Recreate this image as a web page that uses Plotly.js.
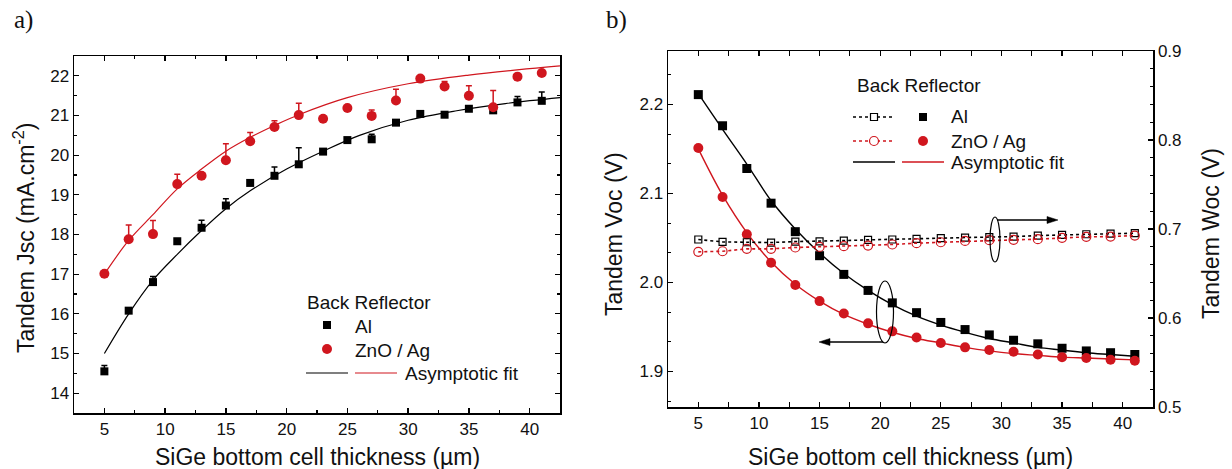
<!DOCTYPE html>
<html><head><meta charset="utf-8">
<script src="https://cdn.plot.ly/plotly-3.0.1.min.js"></script>
<style>html,body{margin:0;padding:0;background:#fff}#c{width:1232px;height:469px}</style>
</head><body><div id="c"></div>
<script>
// ---- data ----
const thickness = [5,7,9,11,13,15,17,19,21,23,25,27,29,31,33,35,37,39,41];

// Panel a: Tandem Jsc (mA.cm-2)
const jscAl    = [14.55,16.08,16.80,17.83,18.17,18.73,19.30,19.48,19.77,20.09,20.38,20.40,20.82,21.04,21.02,21.17,21.13,21.33,21.37];
const jscAlErr = [0.15,0.05,0.14,0.05,0.19,0.17,0.07,0.22,0.42,0.05,0.05,0.13,0.05,0.05,0.03,0.05,0.05,0.15,0.22];
const jscZn    = [17.01,17.88,18.01,19.27,19.48,19.87,20.35,20.71,21.01,20.92,21.19,20.99,21.38,21.93,21.73,21.50,21.21,21.98,22.07];
const jscZnErr = [0,0.36,0.34,0.25,0.05,0.42,0.22,0.16,0.30,0.03,0,0.15,0.28,0,0.13,0.25,0.42,0,0];

const jscFitAlX = [5,7,9,11,13,15,17,20,23,26,30,34,38,42.5];
const jscFitAlY = [15.0,16.0,16.85,17.5,18.1,18.65,19.1,19.65,20.1,20.5,20.88,21.12,21.3,21.45];
const jscFitZnX = [5,7,9,11,13,15,17,19,21,25,30,35,40,42.5];
const jscFitZnY = [17.0,17.85,18.5,19.15,19.65,20.1,20.45,20.75,21.02,21.45,21.8,22.02,22.18,22.25];

// Panel b: Tandem Voc (V) left axis, Tandem Woc (V) right axis
const vocAl = [2.211,2.176,2.128,2.089,2.057,2.030,2.009,1.991,1.977,1.966,1.955,1.947,1.941,1.935,1.931,1.926,1.923,1.921,1.919];
const vocZn = [2.151,2.096,2.054,2.022,1.997,1.979,1.965,1.954,1.945,1.938,1.932,1.927,1.924,1.922,1.919,1.916,1.915,1.913,1.912];
const vocFitAl = [2.212,2.172,2.133,2.092,2.060,2.033,2.010,1.991,1.975,1.962,1.952,1.944,1.937,1.932,1.927,1.924,1.921,1.919,1.917];
const vocFitZn = [2.150,2.098,2.056,2.023,1.998,1.979,1.964,1.953,1.944,1.937,1.932,1.927,1.923,1.920,1.918,1.916,1.915,1.914,1.913];
const wocAl = [0.6882,0.6855,0.6851,0.6848,0.6859,0.6862,0.6870,0.6878,0.6882,0.6889,0.6897,0.6904,0.6908,0.6915,0.6926,0.6934,0.6941,0.6949,0.6953];
const wocZn = [0.6743,0.6750,0.6777,0.6777,0.6792,0.6799,0.6807,0.6814,0.6826,0.6841,0.6851,0.6866,0.6874,0.6878,0.6886,0.6901,0.6912,0.6915,0.6926];

const xTickVals = [5,10,15,20,25,30,35,40];
const labelA = 'a)', labelB = 'b)';
const xTitle = 'SiGe bottom cell thickness (µm)';
const yTitleA = 'Tandem Jsc (mA.cm<sup>-2</sup>)';
const yTitleB = 'Tandem Voc (V)';
const yTitleB2 = 'Tandem Woc (V)';
const legTitle = 'Back Reflector';
const legAl = 'Al', legZn = 'ZnO / Ag', legFit = 'Asymptotic fit';

// ---- style ----
const W = 1232, H = 469;
const RED = '#d0161e', BLK = '#000000';
const FONT = 'Liberation Sans, Arial, sans-serif';
const TICK = 17, LEG = 19, TITLE = 23;
const px = x => x / W;
const py = y => 1 - y / H;

const traces = [
  // Panel a
  {x: jscFitAlX, y: jscFitAlY, xaxis:'x', yaxis:'y', mode:'lines', line:{color:BLK, width:1.2, shape:'spline'}, hoverinfo:'skip'},
  {x: jscFitZnX, y: jscFitZnY, xaxis:'x', yaxis:'y', mode:'lines', line:{color:RED, width:1.2, shape:'spline'}, hoverinfo:'skip'},
  {x: thickness, y: jscAl, xaxis:'x', yaxis:'y', mode:'markers', marker:{symbol:'square', size:8, color:BLK},
   error_y:{type:'data', symmetric:false, array:jscAlErr, arrayminus:jscAl.map(()=>0), color:BLK, thickness:1.5, width:3}},
  {x: thickness, y: jscZn, xaxis:'x', yaxis:'y', mode:'markers', marker:{symbol:'circle', size:10, color:RED},
   error_y:{type:'data', symmetric:false, array:jscZnErr, arrayminus:jscZn.map(()=>0), color:RED, thickness:1.5, width:3}},
  // Panel b - Woc (right axis)
  {x: thickness, y: wocAl, xaxis:'x2', yaxis:'y3', mode:'lines+markers', line:{color:BLK, width:1.6, dash:'dot'},
   marker:{symbol:'square-open', size:7, color:BLK, line:{width:1.2}}},
  {x: thickness, y: wocZn, xaxis:'x2', yaxis:'y3', mode:'lines+markers', line:{color:RED, width:1.6, dash:'dot'},
   marker:{symbol:'circle-open', size:9, color:RED, line:{width:1.2}}},
  // Panel b - Voc (left axis)
  {x: thickness, y: vocFitAl, xaxis:'x2', yaxis:'y2', mode:'lines', line:{color:BLK, width:1.4, shape:'spline'}, hoverinfo:'skip'},
  {x: thickness, y: vocFitZn, xaxis:'x2', yaxis:'y2', mode:'lines', line:{color:RED, width:1.4, shape:'spline'}, hoverinfo:'skip'},
  {x: thickness, y: vocAl, xaxis:'x2', yaxis:'y2', mode:'markers', marker:{symbol:'square', size:9, color:BLK}},
  {x: thickness, y: vocZn, xaxis:'x2', yaxis:'y2', mode:'markers', marker:{symbol:'circle', size:10, color:RED}}
];

const axisBase = {
  showline:true, linecolor:BLK, linewidth:1.5, ticks:'inside', ticklen:5, tickwidth:1.3, tickcolor:BLK,
  showgrid:false, zeroline:false, tickfont:{family:FONT, size:TICK, color:'#111'},
  minor:{ticks:'inside', ticklen:3, tickwidth:1.1, tickcolor:BLK, showgrid:false}
};

const layout = {
  width:W, height:H, margin:{l:0,r:0,t:0,b:0}, showlegend:false,
  paper_bgcolor:'#fff', plot_bgcolor:'#fff', font:{family:FONT, color:'#111'},
  xaxis: Object.assign({}, axisBase, {domain:[px(74), px(560)], range:[2.5,42.5], tickvals:xTickVals, mirror:'allticks',
    minor:Object.assign({}, axisBase.minor, {dtick:2.5, tick0:0}), anchor:'y'}),
  yaxis: Object.assign({}, axisBase, {domain:[py(413), py(56)], range:[13.5,22.5], dtick:1, mirror:'allticks',
    minor:Object.assign({}, axisBase.minor, {dtick:0.5, tick0:0}), anchor:'x'}),
  xaxis2: Object.assign({}, axisBase, {domain:[px(668), px(1153)], range:[2.5,42.5], tickvals:xTickVals, mirror:'allticks',
    minor:Object.assign({}, axisBase.minor, {dtick:2.5, tick0:0}), anchor:'y2'}),
  yaxis2: Object.assign({}, axisBase, {domain:[py(407), py(51)], range:[1.86,2.26], dtick:0.1, tick0:0, tickformat:'.1f',
    minor:Object.assign({}, axisBase.minor, {dtick:0.1/3, tick0:0}), anchor:'x2'}),
  yaxis3: Object.assign({}, axisBase, {domain:[py(407), py(51)], range:[0.5,0.9], dtick:0.1, tick0:0, tickformat:'.1f',
    overlaying:'y2', side:'right', anchor:'x2', minor:Object.assign({}, axisBase.minor, {dtick:0.02, tick0:0})}),
  annotations: [],
  shapes: []
};

const A = layout.annotations, S = layout.shapes;
function txt(x, y, t, opt) {
  A.push(Object.assign({xref:'paper', yref:'paper', x:px(x), y:py(y), text:t, showarrow:false,
    xanchor:'left', yanchor:'middle', font:{family:FONT, size:LEG, color:'#111'}}, opt||{}));
}
function pline(x0, y0, x1, y1, color, width, dash) {
  S.push({type:'line', xref:'paper', yref:'paper', x0:px(x0), x1:px(x1), y0:py(y0), y1:py(y1), line:{color:color, width:width, dash:dash||'solid'}});
}
function tri(x0, y0, x1, y1, x2, y2) {
  S.push({type:'path', xref:'paper', yref:'paper',
    path:'M'+px(x0)+','+py(y0)+' L'+px(x1)+','+py(y1)+' L'+px(x2)+','+py(y2)+' Z', fillcolor:BLK, line:{color:BLK, width:0.5}});
}
// panel labels
const SERIF = {family:'Liberation Serif, Times New Roman, serif', size:25, color:'#111'};
txt(12, 20, labelA, {font:SERIF});
txt(604, 20, labelB, {font:SERIF});
// axis titles
const TF = {family:FONT, size:TITLE, color:'#111'};
txt(317, 457, xTitle, {xanchor:'center', font:TF});
txt(910, 457, xTitle, {xanchor:'center', font:TF});
txt(24, 238, yTitleA, {xanchor:'center', textangle:-90, font:TF});
txt(614, 234, yTitleB, {xanchor:'center', textangle:-90, font:TF});
txt(1211, 234, yTitleB2, {xanchor:'center', textangle:-90, font:TF});

// Panel a legend
txt(305, 302, legTitle);
S.push({type:'rect', xref:'paper', yref:'paper', x0:px(323), x1:px(331), y0:py(329), y1:py(321), fillcolor:BLK, line:{width:0}});
txt(353, 326, legAl);
S.push({type:'circle', xref:'paper', yref:'paper', x0:px(322), x1:px(332), y0:py(354), y1:py(344), fillcolor:RED, line:{width:0}});
txt(353, 350, legZn);
pline(306, 373, 348, 373, BLK, 1.2);
pline(355, 373, 397, 373, RED, 1.2);
txt(403, 373, legFit);

// Panel b legend
txt(855, 85, legTitle);
pline(853, 117, 893, 117, BLK, 1.3, 'dot');
S.push({type:'rect', xref:'paper', yref:'paper', x0:px(870.5), x1:px(877.5), y0:py(120.5), y1:py(113.5), fillcolor:'#fff', line:{color:BLK, width:1.2}});
S.push({type:'rect', xref:'paper', yref:'paper', x0:px(919), x1:px(927), y0:py(121), y1:py(113), fillcolor:BLK, line:{width:0}});
txt(949, 117, legAl);
pline(853, 141, 893, 141, RED, 1.3, 'dot');
S.push({type:'circle', xref:'paper', yref:'paper', x0:px(869.5), x1:px(878.5), y0:py(145.5), y1:py(136.5), fillcolor:'#fff', line:{color:RED, width:1.2}});
S.push({type:'circle', xref:'paper', yref:'paper', x0:px(918), x1:px(928), y0:py(146), y1:py(136), fillcolor:RED, line:{width:0}});
txt(949, 141, legZn);
pline(853, 162, 895, 162, BLK, 1.4);
pline(902, 162, 944, 162, RED, 1.4);
txt(949, 162, legFit);

// Panel b ellipses and arrows
S.push({type:'circle', xref:'paper', yref:'paper', x0:px(990), x1:px(1000), y0:py(262), y1:py(217), line:{color:BLK, width:1.2}});
S.push({type:'circle', xref:'paper', yref:'paper', x0:px(876.5), x1:px(893.5), y0:py(343), y1:py(281), line:{color:BLK, width:1.2}});
pline(997, 220, 1049, 220, BLK, 1.3);
tri(1058, 220, 1047, 216.5, 1047, 223.5);
pline(829, 342, 883, 342, BLK, 1.3);
tri(819, 342, 830, 338.5, 830, 345.5);

Plotly.newPlot('c', traces, layout, {staticPlot:true});
</script>
</body></html>
